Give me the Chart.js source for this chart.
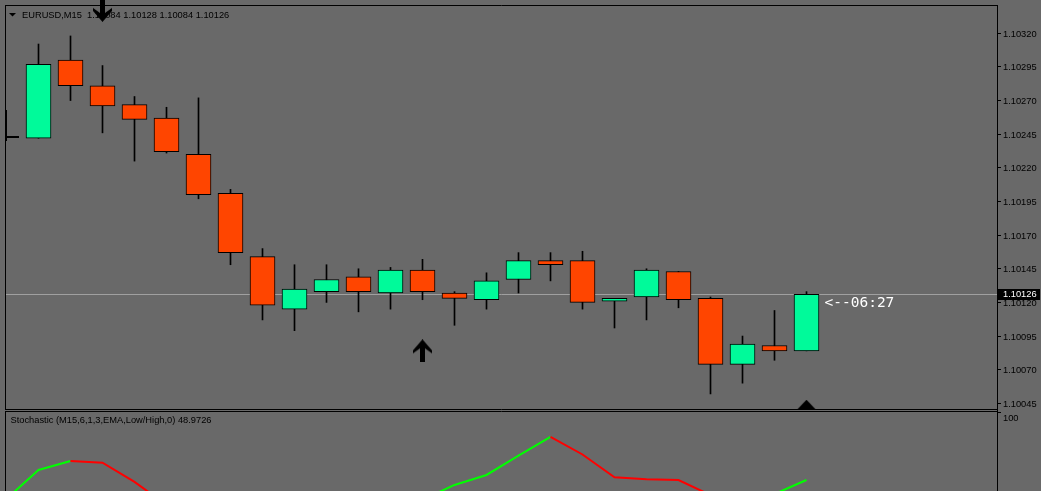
<!DOCTYPE html>
<html>
<head>
<meta charset="utf-8">
<title>EURUSD,M15</title>
<script src="https://cdn.jsdelivr.net/npm/chart.js@4.4.1/dist/chart.umd.min.js"></script>
<style>
    html, body { margin: 0; padding: 0; background: #696969; overflow: hidden; }
    #wrap { position: relative; width: 1041px; height: 491px; }
    canvas { position: absolute; left: 0; }
    #priceChart { top: 0; }
    #stochChart { top: 410px; }
</style>
</head>
<body>
<div id="wrap">
    <canvas id="priceChart" width="1041" height="410"></canvas>
    <canvas id="stochChart" width="1041" height="81"></canvas>
</div>
<script>
// ---- data ----
const symbol = 'EURUSD,M15';
const opens  = [1.10242, 1.10300, 1.10281, 1.10267, 1.10257, 1.10230, 1.10201, 1.10154, 1.10115, 1.10128, 1.10139, 1.10127, 1.10144,
                1.10127, 1.10122, 1.10137, 1.10151, 1.10151, 1.10121, 1.10124, 1.10143, 1.10123, 1.10074, 1.10088, 1.10084];
const highs  = [1.10312, 1.10318, 1.10296, 1.10273, 1.10265, 1.10272, 1.10204, 1.10160, 1.10148, 1.10148, 1.10145, 1.10146, 1.10152,
                1.10128, 1.10142, 1.10157, 1.10157, 1.10158, 1.10123, 1.10145, 1.10143, 1.10124, 1.10095, 1.10114, 1.10128];
const lows   = [1.10242, 1.10270, 1.10246, 1.10225, 1.10231, 1.10197, 1.10148, 1.10107, 1.10099, 1.10120, 1.10113, 1.10115, 1.10122,
                1.10103, 1.10115, 1.10127, 1.10136, 1.10115, 1.10101, 1.10107, 1.10116, 1.10052, 1.10060, 1.10077, 1.10084];
const closes = [1.10297, 1.10281, 1.10266, 1.10256, 1.10232, 1.10200, 1.10157, 1.10118, 1.10130, 1.10137, 1.10128, 1.10144, 1.10128,
                1.10123, 1.10136, 1.10151, 1.10148, 1.10120, 1.10123, 1.10144, 1.10122, 1.10074, 1.10089, 1.10084, 1.10126];
const priceTicks = [1.10320, 1.10295, 1.10270, 1.10245, 1.10220, 1.10195, 1.10170, 1.10145, 1.10120, 1.10095, 1.10070, 1.10045];

// signal arrows: bar index and price
const downArrowBars = [2];
const downArrowPrices = [1.10337];
const upArrowBars = [12];
const upArrowPrices = [1.10084];
const triangleBars = [24];
const trianglePrices = [1.10044];

// stochastic main line, first value belongs to the bar before the first visible candle
const stochValues = [34.6, 56.6, 63.4, 62.1, 47.5, 30, 14, 6, 3, 7, 14, 20, 27, 34,
                     45.2, 52.8, 67.6, 81.8, 68.4, 51.1, 49.6, 48.9, 37.5, 28, 38.3, 48.9726];
const stochTicks = [100];
const stochTitle = 'Stochastic (M15,6,1,3,EMA,Low/High,0)';
const timerText = '<--06:27';

// ---- look ----
const BG = '#696969';
const BULL = '#00FA9A';
const BEAR = '#FF4500';
const FONT = "'Liberation Sans', Arial, sans-serif";
const FONT_SIZE = 9.3;
const X_MIN = -1.046875;
const X_MAX = 29.953125;

Chart.defaults.font.family = FONT;
Chart.defaults.font.size = FONT_SIZE;
Chart.defaults.color = '#000';

function makeArrow(pointDown) {
    const c = document.createElement('canvas');
    c.width = 19;
    c.height = 23;
    const g = c.getContext('2d');
    if (pointDown) {
        g.translate(0, 23);
        g.scale(1, -1);
    }
    g.fillStyle = '#000';
    g.beginPath();
    g.moveTo(9.5, 0);
    g.lineTo(19, 11);
    g.lineTo(19, 14);
    g.lineTo(12, 9);
    g.lineTo(12, 23);
    g.lineTo(7, 23);
    g.lineTo(7, 9);
    g.lineTo(0, 14);
    g.lineTo(0, 11);
    g.closePath();
    g.fill();
    return c;
}

function makeTriangle() {
    const c = document.createElement('canvas');
    c.width = 19;
    c.height = 10;
    const g = c.getContext('2d');
    g.fillStyle = '#000';
    g.beginPath();
    g.moveTo(9.5, 0);
    g.lineTo(19, 10);
    g.lineTo(0, 10);
    g.closePath();
    g.fill();
    return c;
}

function fitAxis(scale) {
    scale.width = 44;
    scale.paddingTop = 0;
    scale.paddingBottom = 0;
}

const backgroundPlugin = {
    id: 'background',
    beforeDraw(chart) {
        const ctx = chart.ctx;
        ctx.save();
        ctx.fillStyle = BG;
        ctx.fillRect(0, 0, chart.width, chart.height);
        ctx.restore();
    }
};

const last = opens.length - 1;

const pricePanelPlugin = {
    id: 'pricePanel',
    beforeDatasetsDraw(chart) {
        const ctx = chart.ctx;
        const y = chart.scales.y;
        const area = chart.chartArea;
        ctx.save();

        // frame
        ctx.strokeStyle = '#000';
        ctx.lineWidth = 1;
        ctx.beginPath();
        ctx.moveTo(5.5, 5);
        ctx.lineTo(5.5, 410);
        ctx.moveTo(5, 5.5);
        ctx.lineTo(998, 5.5);
        ctx.moveTo(997.5, 5);
        ctx.lineTo(997.5, 410);
        ctx.moveTo(5, 409.5);
        ctx.lineTo(998, 409.5);
        ctx.stroke();

        // bid line
        const py = Math.round(y.getPixelForValue(closes[last])) + 0.5;
        ctx.strokeStyle = '#a0a0a0';
        ctx.beginPath();
        ctx.moveTo(area.left + 1, py);
        ctx.lineTo(area.right, py);
        ctx.stroke();

        // start marker
        const sy = Math.round(y.getPixelForValue(opens[0])) - 1;
        ctx.fillStyle = '#000';
        ctx.fillRect(5, sy - 27, 2, 31);
        ctx.fillRect(5, sy - 1, 14, 2);

        // title
        ctx.beginPath();
        ctx.moveTo(9, 13);
        ctx.lineTo(16, 13);
        ctx.lineTo(12.5, 16.5);
        ctx.closePath();
        ctx.fill();
        ctx.font = FONT_SIZE + 'px ' + FONT;
        ctx.textBaseline = 'middle';
        ctx.fillText(symbol + '  ' + [opens[last], highs[last], lows[last], closes[last]].map(v => v.toFixed(5)).join(' '), 22, 15);
        ctx.restore();
    },
    afterDraw(chart) {
        const ctx = chart.ctx;
        const x = chart.scales.x;
        const y = chart.scales.y;
        const py = y.getPixelForValue(closes[last]);
        ctx.save();
        ctx.fillStyle = '#000';
        ctx.fillRect(998, Math.round(py) - 5, 42, 11);
        ctx.fillStyle = '#fff';
        ctx.font = FONT_SIZE + 'px ' + FONT;
        ctx.textBaseline = 'middle';
        ctx.fillText(closes[last].toFixed(5), 1003, Math.round(py) + 0.5);
        ctx.font = "14.5px 'DejaVu Sans Mono', monospace";
        ctx.fillText(timerText, x.getPixelForValue(last) + 18, py + 8.5);
        ctx.restore();
    }
};

function drawPriceChart(canvasId) {
    const ctx = document.getElementById(canvasId).getContext('2d');
    return new Chart(ctx, {
        type: 'bar',
        data: {
            datasets: [{
                label: 'wicks',
                data: opens.map((o, i) => ({ x: i, y: [lows[i], highs[i]] })),
                backgroundColor: '#000',
                borderWidth: 0,
                barThickness: 1,
                grouped: false,
                order: 3
            }, {
                label: 'bodies',
                data: opens.map((o, i) => ({ x: i, y: [o, closes[i]] })),
                backgroundColor: opens.map((o, i) => closes[i] >= o ? BULL : BEAR),
                borderColor: '#000',
                borderWidth: 1,
                borderSkipped: false,
                barThickness: 25,
                grouped: false,
                order: 2
            }, {
                type: 'scatter',
                label: 'down',
                data: downArrowBars.map((b, i) => ({ x: b, y: downArrowPrices[i] })),
                pointStyle: makeArrow(true),
                pointRadius: 10,
                clip: false,
                order: 1
            }, {
                type: 'scatter',
                label: 'up',
                data: upArrowBars.map((b, i) => ({ x: b, y: upArrowPrices[i] })),
                pointStyle: makeArrow(false),
                pointRadius: 10,
                clip: false,
                order: 1
            }, {
                type: 'scatter',
                label: 'triangle',
                data: triangleBars.map((b, i) => ({ x: b, y: trianglePrices[i] })),
                pointStyle: makeTriangle(),
                pointRadius: 10,
                clip: false,
                order: 1
            }]
        },
        options: {
            responsive: false,
            animation: false,
            events: [],
            layout: { autoPadding: false, padding: { left: 5, top: 5, right: 0, bottom: 1 } },
            plugins: { legend: { display: false }, tooltip: { enabled: false } },
            scales: {
                x: { type: 'linear', display: false, min: X_MIN, max: X_MAX, offset: false },
                y: {
                    type: 'linear',
                    position: 'right',
                    min: 1.100408,
                    max: 1.103410,
                    afterBuildTicks: s => { s.ticks = priceTicks.map(v => ({ value: v })); },
                    afterFit: fitAxis,
                    border: { display: false },
                    grid: { display: true, drawOnChartArea: false, drawTicks: true, tickLength: 4, color: '#000' },
                    ticks: { padding: 2, labelOffset: 1, color: '#000', autoSkip: false, callback: v => v.toFixed(5) }
                }
            }
        },
        plugins: [backgroundPlugin, pricePanelPlugin]
    });
}

const stochPanelPlugin = {
    id: 'stochPanel',
    beforeDatasetsDraw(chart) {
        const ctx = chart.ctx;
        ctx.save();
        ctx.strokeStyle = '#000';
        ctx.lineWidth = 1;
        ctx.beginPath();
        ctx.moveTo(5, 1.5);
        ctx.lineTo(998, 1.5);
        ctx.moveTo(5.5, 1);
        ctx.lineTo(5.5, 81);
        ctx.moveTo(997.5, 0);
        ctx.lineTo(997.5, 81);
        ctx.stroke();
        ctx.fillStyle = '#000';
        ctx.font = FONT_SIZE + 'px ' + FONT;
        ctx.textBaseline = 'middle';
        ctx.fillText(stochTitle + ' ' + stochValues[stochValues.length - 1].toFixed(4), 10.5, 10.5);
        ctx.restore();
    }
};

function drawStochChart(canvasId) {
    const ctx = document.getElementById(canvasId).getContext('2d');
    return new Chart(ctx, {
        type: 'line',
        data: {
            datasets: [{
                label: 'Stochastic',
                data: stochValues.map((v, i) => ({ x: i - 1, y: v })),
                borderWidth: 2,
                pointRadius: 0,
                tension: 0,
                segment: {
                    borderColor: c => c.p1.parsed.y >= c.p0.parsed.y ? '#00FF00' : '#FF0000'
                }
            }]
        },
        options: {
            responsive: false,
            animation: false,
            events: [],
            layout: { autoPadding: false, padding: { left: 5, top: 2, right: 0, bottom: 0 } },
            plugins: { legend: { display: false }, tooltip: { enabled: false } },
            scales: {
                x: { type: 'linear', display: false, min: X_MIN, max: X_MAX },
                y: {
                    type: 'linear',
                    position: 'right',
                    min: 40.59,
                    max: 100.76,
                    afterBuildTicks: s => { s.ticks = stochTicks.map(v => ({ value: v })); },
                    afterFit: fitAxis,
                    border: { display: false },
                    grid: { display: true, drawOnChartArea: false, drawTicks: true, tickLength: 4, color: '#000' },
                    ticks: { padding: 2, labelOffset: 5.5, color: '#000', callback: v => String(v) }
                }
            }
        },
        plugins: [backgroundPlugin, stochPanelPlugin]
    });
}

drawPriceChart('priceChart');
drawStochChart('stochChart');
</script>
</body>
</html>
